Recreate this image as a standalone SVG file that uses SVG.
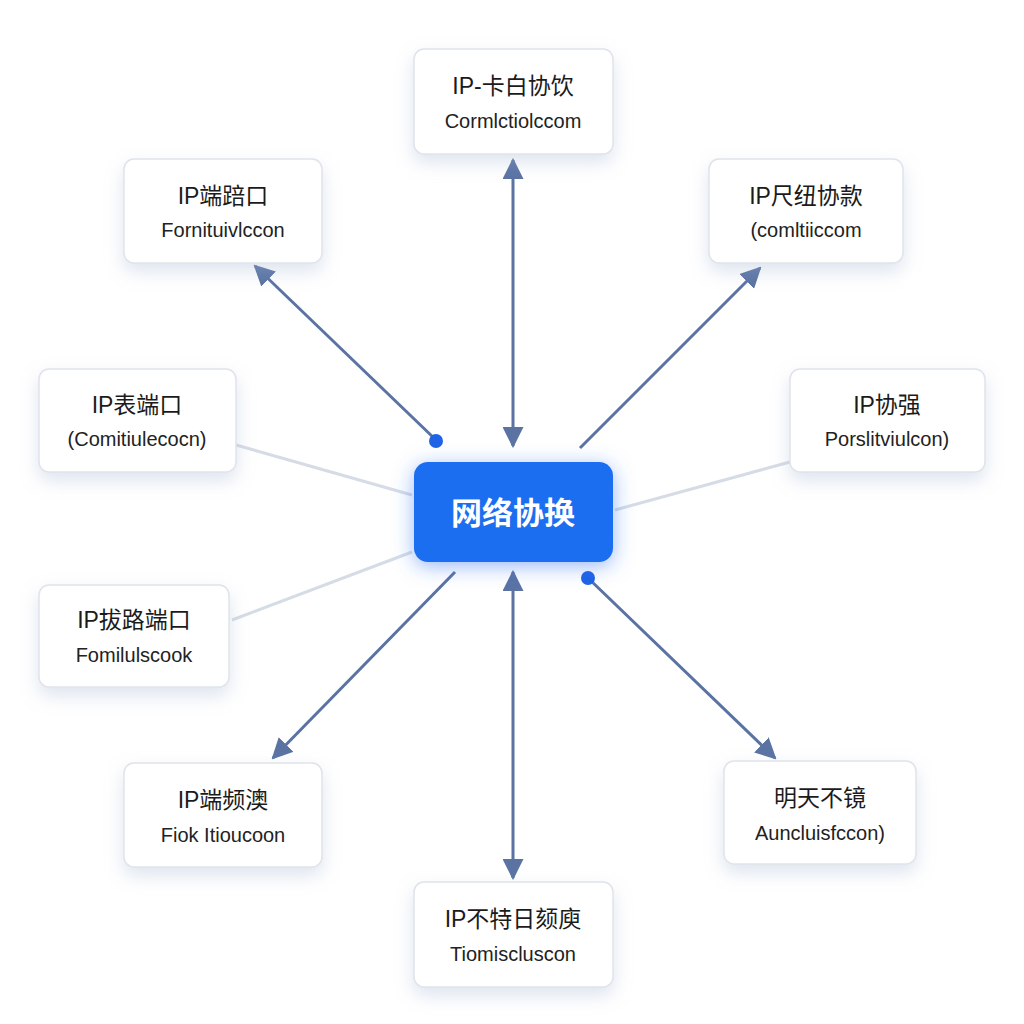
<svg xmlns="http://www.w3.org/2000/svg" width="1024" height="1024" viewBox="0 0 1024 1024">
<style>
.box{fill:#fff;stroke:#dfe3ea;stroke-width:1.5;filter:url(#sh)}
.t{font-family:"Liberation Sans","Noto Sans CJK SC",sans-serif;font-size:23px;fill:#1b1b1b;text-anchor:middle}
.s{font-family:"Liberation Sans","Noto Sans CJK SC",sans-serif;font-size:20px;fill:#222;text-anchor:middle}
.ln{stroke:#5a73a3;stroke-width:3;fill:none}
.lg{stroke:#d6dce6;stroke-width:3;fill:none}
</style>
<defs>
<filter id="sh" x="-30%" y="-30%" width="160%" height="170%"><feDropShadow dx="0" dy="8" stdDeviation="9" flood-color="#9fb0d0" flood-opacity="0.35"/></filter>
<filter id="glow" x="-40%" y="-40%" width="180%" height="180%"><feDropShadow dx="0" dy="4" stdDeviation="10" flood-color="#2f6ff0" flood-opacity="0.5"/></filter>
<marker id="a" viewBox="0 0 10 10" refX="9" refY="5" markerWidth="8" markerHeight="8" markerUnits="userSpaceOnUse" orient="auto-start-reverse"><path d="M0,0L10,5L0,10z" fill="#5a73a3"/></marker>
<marker id="ah" viewBox="0 0 10 10" refX="9" refY="5" markerWidth="7" markerHeight="7" orient="auto-start-reverse"><path d="M0,0L10,5L0,10z" fill="#5a73a3"/></marker>
</defs>
<rect width="1024" height="1024" fill="#fff"/>
<g id="connectors">
<line class="lg" x1="236" y1="445" x2="412" y2="495"/>
<line class="lg" x1="615" y1="510" x2="790" y2="462"/>
<line class="lg" x1="232" y1="620" x2="412" y2="552"/>
<line class="ln" x1="513" y1="160" x2="513" y2="446" marker-start="url(#ah)" marker-end="url(#ah)"/>
<line class="ln" x1="513" y1="572" x2="513" y2="878" marker-start="url(#ah)" marker-end="url(#ah)"/>
<line class="ln" x1="436" y1="440" x2="255" y2="266" marker-end="url(#ah)"/>
<line class="ln" x1="580" y1="448" x2="760" y2="268" marker-end="url(#ah)"/>
<line class="ln" x1="455" y1="572" x2="273" y2="758" marker-end="url(#ah)"/>
<line class="ln" x1="588" y1="578" x2="775" y2="758" marker-end="url(#ah)"/>
<circle cx="436" cy="441" r="7" fill="#1f63e6"/>
<circle cx="588" cy="578" r="7" fill="#1f63e6"/>
</g>
<g id="center"><rect x="414" y="462" width="199" height="100" rx="14" fill="#1a6ef0" filter="url(#glow)"/><text x="513" y="524" font-family="Liberation Sans,'Noto Sans CJK SC',sans-serif" font-size="31" font-weight="bold" fill="#fff" text-anchor="middle">网络协换</text></g>
<g id="n1"><rect class="box" x="414" y="49" width="199" height="105" rx="10"/><text class="t" x="513" y="94">IP-卡白协饮</text><text class="s" x="513" y="128">Cormlctiolccom</text></g>
<g id="n2"><rect class="box" x="124" y="159" width="198" height="104" rx="10"/><text class="t" x="223" y="204">IP端踣口</text><text class="s" x="223" y="237">Fornituivlccon</text></g>
<g id="n3"><rect class="box" x="709" y="159" width="194" height="104" rx="10"/><text class="t" x="806" y="204">IP尺纽协款</text><text class="s" x="806" y="237">(comltiiccom</text></g>
<g id="n4"><rect class="box" x="39" y="369" width="197" height="103" rx="10"/><text class="t" x="137" y="413">IP表端口</text><text class="s" x="137" y="446">(Comitiulecocn)</text></g>
<g id="n5"><rect class="box" x="790" y="369" width="195" height="103" rx="10"/><text class="t" x="887" y="413">IP协强</text><text class="s" x="887" y="446">Porslitviulcon)</text></g>
<g id="n6"><rect class="box" x="39" y="585" width="190" height="102" rx="10"/><text class="t" x="134" y="628">IP拔路端口</text><text class="s" x="134" y="662">Fomilulscook</text></g>
<g id="n7"><rect class="box" x="124" y="763" width="198" height="104" rx="10"/><text class="t" x="223" y="808">IP端频澳</text><text class="s" x="223" y="842">Fiok Itioucoon</text></g>
<g id="n8"><rect class="box" x="724" y="761" width="192" height="103" rx="10"/><text class="t" x="820" y="806">明天不镜</text><text class="s" x="820" y="840">Auncluisfccon)</text></g>
<g id="n9"><rect class="box" x="414" y="882" width="199" height="105" rx="10"/><text class="t" x="513" y="927">IP不特日颏庾</text><text class="s" x="513" y="961">Tiomiscluscon</text></g>
</svg>
